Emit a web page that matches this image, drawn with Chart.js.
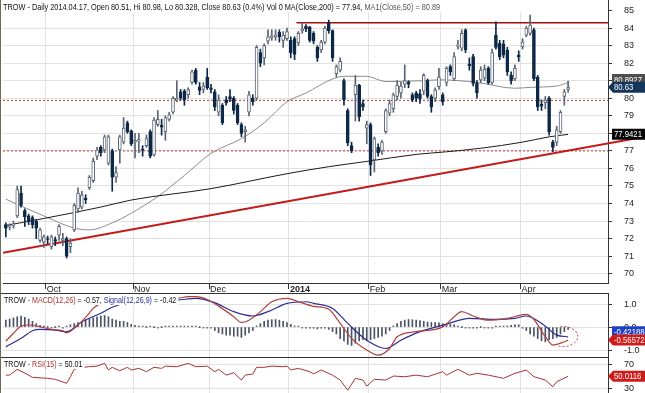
<!DOCTYPE html>
<html>
<head>
<meta charset="utf-8">
<script src="https://cdn.jsdelivr.net/npm/chart.js@4.4.1/dist/chart.umd.min.js"></script>
<style>
  html, body { margin: 0; padding: 0; background: #fff; }
  #wrap { position: relative; width: 645px; height: 393px; overflow: hidden; background: #fff; }
  #wrap canvas { position: absolute; left: 0; }
  #price { top: 0; }
  #macd { top: 293px; }
  #rsi { top: 357px; }
</style>
</head>
<body>
<div id="wrap">
  <canvas id="price" width="645" height="293"></canvas>
  <canvas id="macd" width="645" height="64"></canvas>
  <canvas id="rsi" width="645" height="36"></canvas>
</div>
<script>
// daily candles, 2013-09-16 .. 2014-04-17 (index = trading day)
const opens = [
  72.8, 72.65, 72.75, 73.3, 74.6, 73.6, 73.3, 73.2, 73.0, 71.9,
  71.8, 72.0, 71.55, 71.95, 72.2, 71.9, 72.0, 71.55, 72.5, 73.7,
  73.8, 74.3, 74.9, 75.3, 76.7, 77.2, 77.05, 76.3, 77.0, 75.5,
  77.05, 77.5, 78.6, 78.15, 77.5, 77.55, 77.1, 77.3, 78.1, 76.77,
  78.5, 78.45, 78.1, 78.8, 79.2, 79.9, 80.37, 80.4, 80.2, 80.9,
  81.6, 80.65, 80.5, 81.2, 80.6, 80.37, 79.2, 79.6, 79.9, 80.1,
  80.0, 79.6, 78.5, 78.1, 79.2, 80.0, 80.0, 82.6, 82.3, 83.25,
  83.45, 83.5, 83.75, 83.3, 83.4, 83.3, 83.4, 83.15, 83.85, 84.1,
  84.05, 83.7, 82.9, 82.75, 83.2, 84.3, 83.85, 81.4, 81.6, 81.0,
  79.3, 77.3, 80.2, 80.75, 79.7, 78.3, 78.5, 76.5, 77.2, 77.0,
  78.1, 79.15, 79.4, 80.1, 80.3, 80.8, 80.9, 80.2, 80.3, 80.25,
  80.4, 81.0, 80.1, 80.0, 80.66, 80.2, 80.9, 81.8, 81.1, 82.95,
  82.85, 83.9, 81.95, 82.37, 80.85, 81.04, 81.15, 81.7, 80.9, 83.6,
  83.13, 83.1, 82.75, 81.3, 81.1, 82.45, 82.94, 83.6, 83.7, 83.9,
  81.2, 79.65, 79.75, 80.0, 77.5, 77.5, 78.1, 80.1, 80.51
];
const highs = [
  72.9, 72.85, 73.0, 75.0, 75.0, 73.7, 73.4, 73.3, 73.1, 72.6,
  72.2, 72.15, 72.2, 72.1, 72.8, 72.3, 72.1, 72.0, 74.0, 74.9,
  74.7, 74.5, 75.6, 76.6, 77.2, 77.3, 77.9, 77.9, 77.1, 76.1,
  77.9, 78.9, 78.7, 78.2, 78.0, 78.0, 77.3, 77.9, 78.2, 78.9,
  79.3, 78.8, 79.0, 79.2, 80.1, 81.0, 80.5, 80.5, 80.6, 81.6,
  81.7, 80.9, 80.9, 81.7, 80.8, 80.5, 80.2, 79.7, 80.1, 80.5,
  80.1, 79.7, 78.6, 78.4, 80.4, 80.2, 83.0, 82.8, 83.1, 83.9,
  83.9, 83.9, 83.9, 83.8, 84.0, 83.5, 83.5, 83.8, 84.3, 84.2,
  84.1, 83.8, 83.0, 83.3, 84.1, 84.45, 83.9, 81.9, 82.3, 81.1,
  79.4, 77.5, 81.3, 80.8, 79.9, 78.7, 78.6, 77.8, 77.4, 77.6,
  79.4, 79.9, 80.3, 81.0, 80.9, 81.9, 81.0, 80.3, 80.4, 80.5,
  81.4, 81.1, 80.2, 80.6, 81.7, 80.3, 81.8, 81.9, 82.6, 83.3,
  83.9, 83.95, 82.3, 82.5, 81.0, 81.8, 81.9, 81.8, 82.8, 84.36,
  83.3, 83.3, 82.9, 81.5, 81.9, 82.7, 83.4, 84.1, 84.74, 84.0,
  81.3, 79.9, 80.1, 80.1, 77.6, 78.4, 79.3, 80.5, 80.98
];
const lows = [
  72.1, 72.5, 72.6, 73.2, 73.8, 72.7, 72.8, 72.6, 72.0, 71.8,
  71.5, 71.7, 71.4, 71.6, 71.9, 71.6, 70.9, 71.2, 72.4, 73.5,
  73.7, 74.0, 74.8, 75.2, 76.5, 76.7, 76.9, 76.2, 74.7, 75.2,
  76.3, 77.4, 78.0, 77.3, 76.6, 76.9, 76.7, 77.2, 76.6, 76.7,
  78.4, 77.9, 77.6, 78.7, 79.1, 79.8, 79.9, 79.6, 80.0, 80.8,
  80.8, 80.2, 80.3, 80.5, 80.3, 79.3, 79.0, 78.5, 79.6, 79.8,
  79.1, 78.5, 77.8, 77.5, 79.0, 79.6, 79.9, 81.8, 81.9, 83.1,
  83.3, 83.3, 83.2, 82.9, 83.3, 82.3, 82.2, 83.0, 83.7, 83.8,
  83.2, 83.1, 82.1, 82.6, 83.1, 83.7, 82.1, 81.2, 81.5, 79.6,
  77.3, 76.9, 78.7, 78.7, 79.3, 77.4, 75.6, 75.8, 76.7, 76.8,
  78.0, 79.0, 79.2, 79.9, 80.0, 80.6, 80.6, 79.8, 79.8, 79.7,
  80.2, 80.0, 79.2, 79.8, 80.5, 79.6, 80.7, 81.3, 81.0, 82.8,
  82.7, 82.6, 81.6, 80.7, 80.0, 80.9, 81.0, 80.8, 80.8, 82.8,
  82.2, 82.3, 81.3, 80.8, 81.0, 82.1, 82.8, 83.5, 83.6, 81.0,
  79.3, 79.3, 79.4, 77.9, 76.95, 77.3, 78.0, 79.6, 80.328
];
const closes = [
  72.6, 72.75, 72.85, 74.8, 73.9, 73.25, 73.0, 72.8, 72.6, 72.5,
  72.1, 71.95, 72.1, 71.85, 72.7, 72.0, 71.0, 71.75, 73.9, 74.6,
  74.5, 74.2, 75.5, 76.4, 77.05, 76.9, 77.8, 77.8, 75.5, 75.76,
  77.8, 78.3, 78.1, 77.4, 77.6, 77.65, 77.05, 77.7, 76.7, 78.76,
  78.8, 78.35, 78.9, 79.05, 80.0, 80.0, 80.0, 79.9, 80.5, 81.5,
  80.9, 80.45, 80.7, 80.6, 80.5, 79.5, 79.9, 78.6, 79.75, 79.95,
  79.3, 78.6, 78.0, 78.2, 80.2, 79.8, 82.9, 82.0, 83.0, 83.5,
  83.55, 83.6, 83.5, 83.6, 83.8, 82.6, 82.5, 83.7, 83.95, 83.95,
  83.3, 83.25, 82.3, 83.2, 84.0, 83.85, 82.3, 81.8, 82.1, 79.9,
  77.45, 77.0, 80.75, 78.95, 79.5, 78.5, 76.2, 77.7, 76.9, 77.5,
  79.3, 79.7, 80.2, 80.75, 80.7, 81.0, 80.8, 79.9, 80.0, 79.95,
  81.3, 80.1, 79.5, 80.47, 81.2, 79.8, 81.7, 81.5, 82.37, 83.05,
  83.7, 82.75, 81.85, 80.85, 80.3, 81.6, 81.65, 80.87, 82.6, 82.9,
  82.37, 82.45, 81.5, 81.0, 81.7, 82.35, 83.2, 84.0, 84.17, 81.1,
  79.5, 79.55, 79.9, 78.1, 77.2, 78.2, 79.2, 80.37, 80.63
];

// month boundaries (between trading days) and their labels
const monthTicks = [10.5, 33.5, 53.5, 74.5, 95.5, 114.5, 135.5];
const monthLabels = ['Oct', 'Nov', 'Dec', '2014', 'Feb', 'Mar', 'Apr'];
const priceTicks = [70, 71, 72, 73, 74, 75, 76, 77, 78, 79, 80, 81, 82, 83, 84, 85];

// moving averages
const ma200Day = [0, 10, 25, 33, 54, 74, 85, 95, 108, 116, 125, 136, 143, 148];
const ma200Val = [72.75, 73.15, 73.8, 74.2, 74.85, 75.7, 76.1, 76.4, 76.8, 76.95, 77.15, 77.5, 77.8, 77.9421];
const ma50Day = [0, 11, 18, 22, 28, 33, 40, 47, 54, 62, 68, 74, 79, 86, 89, 95, 100, 110, 114, 124, 134, 138, 145, 148];
const ma50Val = [74.25, 73.2, 72.6, 72.5, 72.9, 73.45, 74.4, 75.6, 76.86, 77.7, 78.6, 79.8, 80.3, 81.1, 81.25, 81.25, 80.95, 81.0, 81.05, 80.9, 80.57, 80.62, 80.7, 80.8927];

// drawn lines
const resistanceDay = [76.5, 158.5];
const resistanceVal = [84.3, 84.3];
const supportDay = [-0.75, 168.2];
const supportVal = [71.2, 77.8];
const dottedLevels = [79.88, 77.0];

// MACD(12,26), signal(12,26,9), histogram
const macdDay = [0, 2, 4, 6, 9, 12, 15, 16, 19, 21, 23, 25, 30, 38, 45, 48, 50, 53, 56, 60, 62, 64, 67, 70, 74, 77, 81, 85, 88, 91, 95, 98, 101, 103, 108, 115, 118, 120, 123, 127, 132, 137, 139, 142, 144, 147, 148];
const macdVal = [-0.61, -0.27, 0.04, 0.09, 0.01, -0.1, -0.16, -0.25, 0.09, 0.42, 0.81, 1.03, 1.2, 1.28, 1.25, 1.32, 1.32, 1.2, 0.91, 0.45, 0.2, 0.3, 0.67, 1.1, 1.25, 1.1, 0.9, 0.77, 0.16, -0.49, -1.0, -1.22, -0.93, -0.42, -0.2, 0.01, 0.45, 0.67, 0.48, 0.3, 0.38, 0.55, 0.33, -0.42, -0.78, -0.64, -0.56572];
const signalDay = [0, 4, 7, 9, 13, 16, 20, 25, 28, 32, 39, 45, 50, 55, 60, 65, 69, 74, 79, 81, 86, 90, 95, 100, 104, 109, 116, 122, 129, 134, 137, 142, 145, 148];
const signalVal = [-0.86, -0.49, -0.16, -0.1, -0.13, -0.2, 0.23, 0.6, 0.86, 1.06, 1.15, 1.17, 1.25, 1.06, 0.67, 0.48, 0.67, 1.03, 1.1, 1.03, 0.81, 0.16, -0.57, -0.93, -0.57, -0.2, 0.13, 0.38, 0.33, 0.38, 0.48, 0.04, -0.35, -0.42188];
const histVal = [
  0.3, 0.35, 0.4, 0.45, 0.48, 0.42, 0.35, 0.25, 0.15, 0.08, 0.03,
  0.0, -0.02, 0.0, 0.02, -0.03, 0.03,
  0.1, 0.15, 0.2, 0.25, 0.3, 0.35, 0.4, 0.45, 0.48, 0.5, 0.45,
  0.35, 0.3, 0.25, 0.25, 0.2, 0.12, 0.08,
  0.05, 0.03, 0.0, 0.02, 0.0, -0.02, 0.0, 0.02, 0.03, 0.02, 0.02, 0.03, 0.02, 0.03, 0.02, 0.01, 0.0, -0.02, -0.03, -0.05,
  -0.15, -0.25, -0.3, -0.35, -0.35, -0.4, -0.4, -0.45, -0.35, -0.25, -0.15,
  0.05, 0.15, 0.25, 0.3, 0.32, 0.33, 0.3, 0.25, 0.2, 0.12, 0.05, 0.02,
  -0.02, -0.05, -0.05, -0.05, -0.08, -0.05, -0.05, -0.1, -0.2, -0.3,
  -0.5, -0.6, -0.75, -0.8, -0.7, -0.6, -0.55, -0.6, -0.55, -0.5, -0.45, -0.4, -0.3, -0.15,
  0.05, 0.15, 0.25, 0.3, 0.33, 0.32, 0.3, 0.28, 0.25,
  0.22, 0.2, 0.2, 0.18, 0.15, 0.15, 0.12, 0.1,
  0.03, 0.0, -0.02, -0.03, -0.03, -0.02, 0.0, -0.02, -0.03, -0.02, 0.02, 0.03, 0.03, 0.05, 0.08, 0.1, 0.1,
  -0.05, -0.15, -0.3, -0.4, -0.5, -0.6, -0.64, -0.55, -0.5, -0.45, -0.3, -0.2, -0.1
];
const macdTicks = [-1.0, -0.5, 0.0, 0.5, 1.0];

// RSI(15)
const rsiDay = [0, 1, 3, 6, 7, 11, 13, 16, 17, 18, 20, 22, 24, 26, 27, 28, 30, 32, 33, 35, 37, 39, 41, 42, 45, 48, 50, 53, 55, 56, 58, 60, 62, 63, 65, 66, 68, 70, 73, 74, 75, 77, 80, 81, 83, 86, 88, 90, 92, 94, 95, 97, 100, 102, 105, 108, 111, 115, 116, 119, 122, 124, 127, 131, 134, 137, 139, 142, 144, 145, 148];
const rsiVal = [52, 52, 61.7, 52, 48.3, 46.7, 45, 38.3, 49.3, 61.7, 65, 66, 67, 71.6, 60.5, 65, 59.3, 65, 60.5, 63.3, 57.7, 65, 63.3, 67, 66, 71.6, 66, 67, 57.7, 61.7, 52, 56, 43.8, 52, 53.8, 65, 65, 67, 66, 67, 60.5, 63.3, 57.7, 54, 60.5, 52, 43.8, 27, 46.7, 43.8, 33.8, 45, 43.8, 50.5, 49.3, 52, 49.3, 57.7, 52, 61.7, 52, 55, 52, 46.7, 55, 60.5, 49.3, 43.8, 32.7, 41, 50.0116];
const rsiTicks = [30, 50, 70];

const FONT = '"Liberation Sans", Arial, sans-serif';
Chart.defaults.font.family = FONT;
Chart.defaults.font.size = 9;
Chart.defaults.color = '#222';
Chart.defaults.animation = false;
Chart.defaults.plugins.legend.display = false;
Chart.defaults.plugins.tooltip.enabled = false;

const X_MIN = -0.75, X_MAX = 158.5;
const AXIS_W = 37;
const GRID = '#e2e2e2';
const UP_EDGE = '#5b6472';
const DOWN = '#0e2847';
const last = closes.length - 1;

const pts = (xs, ys) => xs.map((x, k) => ({ x: x, y: ys[k] }));
const isUp = i => closes[i] >= opens[i];

function fixedAxis(width) {
  return function (scale) {
    scale.width = width;
    scale.paddingTop = 0;
    scale.paddingBottom = 0;
  };
}

function xAxis(showLabels) {
  return {
    type: 'linear', min: X_MIN, max: X_MAX, offset: false,
    afterBuildTicks: s => { s.ticks = monthTicks.map(v => ({ value: v })); },
    afterFit: s => { s.height = showLabels ? 10 : 0; s.paddingLeft = 0; s.paddingRight = 0; },
    grid: { color: GRID, drawTicks: showLabels, tickLength: 6, tickColor: '#333', offset: false },
    border: { display: showLabels, color: '#333' },
    ticks: {
      display: showLabels, autoSkip: false, maxRotation: 0, align: 'start', labelOffset: 1, padding: -5,
      callback: v => monthLabels[monthTicks.indexOf(v)],
      font: c => ({ family: FONT, size: 9, weight: (c.tick && c.tick.value === 74.5) ? 'bold' : 'normal' })
    }
  };
}

function yAxis(min, max, tickList, fmt) {
  return {
    position: 'right', min: min, max: max,
    afterBuildTicks: s => { s.ticks = tickList.map(v => ({ value: v })); },
    afterFit: fixedAxis(AXIS_W),
    grid: { color: GRID, tickLength: 4, tickColor: '#333' },
    border: { color: '#333' },
    ticks: { padding: 12, callback: fmt, color: '#222' }
  };
}

// segmented title text, squeezed horizontally like the narrow original font
function titleText(ctx, segs, x, y, sx) {
  ctx.save();
  ctx.font = '9px ' + FONT;
  ctx.textBaseline = 'alphabetic';
  ctx.textAlign = 'left';
  ctx.translate(x, y);
  ctx.scale(sx, 1);
  let cx = 0;
  segs.forEach(s => {
    ctx.fillStyle = s[1];
    ctx.fillText(s[0], cx, 0);
    cx += ctx.measureText(s[0]).width;
  });
  ctx.restore();
  return cx * sx;
}

function textWidth(ctx, segs, sx) {
  ctx.font = '9px ' + FONT;
  let w = 0;
  segs.forEach(s => { w += ctx.measureText(s[0]).width; });
  return w * sx;
}

function tag(ctx, text, yc, bg, arrow) {
  const x0 = 612, x1 = 645, h = 11;
  ctx.fillStyle = bg;
  ctx.beginPath();
  if (arrow) {
    ctx.moveTo(608, yc);
    ctx.lineTo(613, yc - h / 2);
    ctx.lineTo(x1, yc - h / 2);
    ctx.lineTo(x1, yc + h / 2);
    ctx.lineTo(613, yc + h / 2);
    ctx.closePath();
  } else {
    ctx.rect(x0, yc - h / 2, x1 - x0, h);
  }
  ctx.fill();
  ctx.save();
  ctx.fillStyle = '#fff';
  ctx.font = '9px ' + FONT;
  ctx.textBaseline = 'middle';
  ctx.textAlign = 'left';
  ctx.translate(614, yc + 0.5);
  ctx.scale(0.86, 1);
  ctx.fillText(text, 0, 0);
  ctx.restore();
}

// ---- price panel ----
const priceTitle = [
  ['TROW - Daily 2014.04.17, Open 80.51, Hi 80.98, Lo 80.328, Close 80.63 (0.4%) Vol 0 MA(Close,200) = 77.94, ', '#111'],
  ['MA1(Close,50) = 80.89', '#555']
];
const pricePlugin = {
  id: 'priceDecor',
  afterDatasetsDraw(chart) {
    const ctx = chart.ctx;
    const a = chart.chartArea;
    ctx.save();
    ctx.fillStyle = '#fff';
    ctx.fillRect(0, 0, a.right, 12.5);
    titleText(ctx, priceTitle, 3, 10, 0.815);
    ctx.restore();
  },
  afterDraw(chart) {
    const ctx = chart.ctx;
    const y = chart.scales.y;
    ctx.save();
    tag(ctx, '80.8927', y.getPixelForValue(ma50Val[ma50Val.length - 1]) - 3, '#4d4d4d', false);
    tag(ctx, '80.63', y.getPixelForValue(closes[last]), '#14365c', true);
    tag(ctx, '77.9421', y.getPixelForValue(ma200Val[ma200Val.length - 1]), '#050505', false);
    ctx.fillStyle = '#6b6b5e';
    ctx.fillRect(0, 0, 1, chart.height);
    ctx.restore();
  }
};

new Chart(document.getElementById('price'), {
  type: 'bar',
  data: {
    datasets: [
      {
        label: 'body', order: 0, grouped: false,
        data: closes.map((c, i) => ({ x: i, y: [opens[i], c] })),
        barThickness: 3, minBarLength: 1, borderWidth: 1, borderSkipped: false,
        backgroundColor: c => isUp(c.dataIndex) ? '#ffffff' : DOWN,
        borderColor: c => isUp(c.dataIndex) ? UP_EDGE : DOWN
      },
      {
        label: 'wick', order: 1, grouped: false,
        data: closes.map((c, i) => ({ x: i, y: [lows[i], highs[i]] })),
        barThickness: 1, borderWidth: 0,
        backgroundColor: c => isUp(c.dataIndex) ? UP_EDGE : DOWN
      },
      {
        type: 'line', label: 'MA200', order: 2, data: pts(ma200Day, ma200Val),
        borderColor: '#1b1b1b', borderWidth: 1, pointRadius: 0, cubicInterpolationMode: 'monotone'
      },
      {
        type: 'line', label: 'MA50', order: 3, data: pts(ma50Day, ma50Val),
        borderColor: '#8c8c8c', borderWidth: 1, pointRadius: 0, cubicInterpolationMode: 'monotone'
      },
      {
        type: 'line', label: 'resistance', order: 4, data: pts(resistanceDay, resistanceVal),
        borderColor: '#9e0f0f', borderWidth: 1.5, pointRadius: 0
      },
      {
        type: 'line', label: 'support', order: 5, data: pts(supportDay, supportVal),
        borderColor: '#c41a1a', borderWidth: 2, pointRadius: 0,
        clip: { left: 0, top: 0, right: 40, bottom: 0 }
      },
      {
        type: 'line', label: 'level1', order: 6, data: pts([X_MIN, X_MAX], [dottedLevels[0], dottedLevels[0]]),
        borderColor: '#c0392b', borderWidth: 1, borderDash: [2, 2], pointRadius: 0
      },
      {
        type: 'line', label: 'level2', order: 7, data: pts([X_MIN, X_MAX], [dottedLevels[1], dottedLevels[1]]),
        borderColor: '#c0392b', borderWidth: 1, borderDash: [2, 2], pointRadius: 0
      }
    ]
  },
  options: {
    responsive: false,
    devicePixelRatio: 1,
    layout: { padding: { left: 3, right: 0, top: 0, bottom: 0 }, autoPadding: false },
    scales: {
      x: xAxis(true),
      y: yAxis(69.473, 85.598, priceTicks, v => String(v))
    }
  },
  plugins: [pricePlugin]
});

// ---- MACD panel ----
const macdTitle = [
  ['TROW - ', '#111'], ['MACD(12,26)', '#b03030'], [' = -0.57, ', '#111'],
  ['Signal(12,26,9)', '#2b2b9a'], [' = -0.42', '#111']
];
const macdPlugin = {
  id: 'macdDecor',
  afterDatasetsDraw(chart) {
    const ctx = chart.ctx;
    const a = chart.chartArea;
    const xs = chart.scales.x, ys = chart.scales.y;
    ctx.save();
    // dashed ellipse around the latest crossover
    ctx.strokeStyle = '#c0392b';
    ctx.lineWidth = 1;
    ctx.setLineDash([2, 2]);
    ctx.beginPath();
    ctx.ellipse(xs.getPixelForValue(146.6), ys.getPixelForValue(-0.41), 15, 10, 0, -Math.PI * 0.55, Math.PI * 0.6);
    ctx.stroke();
    ctx.setLineDash([]);
    const w = textWidth(ctx, macdTitle, 0.79);
    ctx.fillStyle = '#fff';
    ctx.fillRect(a.left, a.top + 1, w + 3, 11);
    titleText(ctx, macdTitle, 4, a.top + 10, 0.79);
    ctx.restore();
  },
  afterDraw(chart) {
    const ctx = chart.ctx;
    const ys = chart.scales.y;
    ctx.save();
    ctx.fillStyle = '#333';
    ctx.fillRect(0, 0, 608, 1);
    tag(ctx, '-0.42188', ys.getPixelForValue(signalVal[signalVal.length - 1]) - 5, '#1f3fc4', false);
    tag(ctx, '-0.56572', ys.getPixelForValue(macdVal[macdVal.length - 1]), '#d01b1b', true);
    ctx.fillStyle = '#6b6b5e';
    ctx.fillRect(0, 0, 1, chart.height);
    ctx.restore();
  }
};

new Chart(document.getElementById('macd'), {
  type: 'bar',
  data: {
    datasets: [
      {
        type: 'line', label: 'MACD', order: 0, data: pts(macdDay, macdVal),
        borderColor: '#b04040', borderWidth: 1.2, pointRadius: 0, cubicInterpolationMode: 'monotone'
      },
      {
        type: 'line', label: 'Signal', order: 1, data: pts(signalDay, signalVal),
        borderColor: '#2d2d96', borderWidth: 1.2, pointRadius: 0, cubicInterpolationMode: 'monotone'
      },
      {
        label: 'hist', order: 2, grouped: false,
        data: histVal.map((v, i) => ({ x: i, y: v })),
        barThickness: 1, minBarLength: 1, borderWidth: 0, backgroundColor: '#4a5263'
      }
    ]
  },
  options: {
    responsive: false,
    devicePixelRatio: 1,
    layout: { padding: { left: 3, right: 0, top: 0, bottom: 0 }, autoPadding: false },
    scales: {
      x: xAxis(false),
      y: yAxis(-1.30, 1.48, macdTicks, v => v.toFixed(1))
    }
  },
  plugins: [macdPlugin]
});

// ---- RSI panel ----
const rsiTitle = [['TROW - ', '#111'], ['RSI(15)', '#b03030'], [' = 50.01', '#111']];
const rsiPlugin = {
  id: 'rsiDecor',
  afterDatasetsDraw(chart) {
    const ctx = chart.ctx;
    const a = chart.chartArea;
    ctx.save();
    const w = textWidth(ctx, rsiTitle, 0.79);
    ctx.fillStyle = '#fff';
    ctx.fillRect(a.left, a.top + 1, w + 3, 11);
    titleText(ctx, rsiTitle, 4, a.top + 10, 0.79);
    ctx.restore();
  },
  afterDraw(chart) {
    const ctx = chart.ctx;
    const ys = chart.scales.y;
    ctx.save();
    ctx.fillStyle = '#333';
    ctx.fillRect(0, 0, 608, 1);
    tag(ctx, '50.0116', ys.getPixelForValue(rsiVal[rsiVal.length - 1]), '#d01b1b', true);
    ctx.fillStyle = '#6b6b5e';
    ctx.fillRect(0, 0, 1, chart.height);
    ctx.restore();
  }
};

new Chart(document.getElementById('rsi'), {
  type: 'line',
  data: {
    datasets: [
      {
        label: 'RSI', data: pts(rsiDay, rsiVal),
        borderColor: '#a83232', borderWidth: 1, pointRadius: 0
      }
    ]
  },
  options: {
    responsive: false,
    devicePixelRatio: 1,
    layout: { padding: { left: 3, right: 0, top: 0, bottom: 0 }, autoPadding: false },
    scales: {
      x: xAxis(false),
      y: yAxis(22.2, 82.2, rsiTicks, v => String(v))
    }
  },
  plugins: [rsiPlugin]
});
</script>
</body>
</html>
